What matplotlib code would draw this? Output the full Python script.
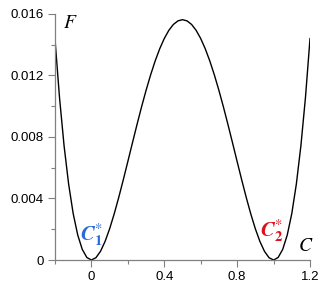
#!/usr/bin/env python3

import matplotlib
matplotlib.use("Agg")
import matplotlib.pyplot as plt
from matplotlib.ticker import MultipleLocator, FuncFormatter

# free energy F(C)
conc = [-0.200, -0.175, -0.150, -0.125, -0.100, -0.075, -0.050, -0.025,
        0.000, 0.025, 0.050, 0.075, 0.100, 0.125, 0.150, 0.175,
        0.200, 0.225, 0.250, 0.275, 0.300, 0.325, 0.350, 0.375,
        0.400, 0.425, 0.450, 0.475, 0.500, 0.525, 0.550, 0.575,
        0.600, 0.625, 0.650, 0.675, 0.700, 0.725, 0.750, 0.775,
        0.800, 0.825, 0.850, 0.875, 0.900, 0.925, 0.950, 0.975,
        1.000, 1.025, 1.050, 1.075, 1.100, 1.125, 1.150, 1.175, 1.200]
energy = [0.014400, 0.010570, 0.007439, 0.004944, 0.003025, 0.001625,
          0.000689, 0.000164, 0.000000, 0.000149, 0.000564, 0.001203,
          0.002025, 0.002991, 0.004064, 0.005211, 0.006400, 0.007602,
          0.008789, 0.009938, 0.011025, 0.012031, 0.012939, 0.013733,
          0.014400, 0.014930, 0.015314, 0.015547, 0.015625, 0.015547,
          0.015314, 0.014930, 0.014400, 0.013733, 0.012939, 0.012031,
          0.011025, 0.009938, 0.008789, 0.007602, 0.006400, 0.005211,
          0.004064, 0.002991, 0.002025, 0.001203, 0.000564, 0.000149,
          0.000000, 0.000164, 0.000689, 0.001625, 0.003025, 0.004944,
          0.007439, 0.010570, 0.014400]

x_ticks = [0, 0.4, 0.8, 1.2]
y_ticks = [0, 0.004, 0.008, 0.012, 0.016]

plt.rcParams['font.family'] = ['Liberation Sans', 'DejaVu Sans']
plt.rcParams['mathtext.fontset'] = 'stix'

fig = plt.figure(figsize=(3.33, 2.96), dpi=100)
ax = fig.add_axes([0.165, 0.1216, 0.766, 0.8314])

ax.plot(conc, energy, color='black', lw=1.0)

ax.set_xlim(-0.2, 1.2)
ax.set_ylim(0, 0.016)
ax.set_xticks(x_ticks)
ax.set_yticks(y_ticks)
ax.xaxis.set_minor_locator(MultipleLocator(0.2))
ax.yaxis.set_minor_locator(MultipleLocator(0.002))
ax.xaxis.set_major_formatter(FuncFormatter(lambda v, p: '%g' % round(v, 3)))
ax.yaxis.set_major_formatter(FuncFormatter(lambda v, p: '%g' % round(v, 4)))

for s in ['top', 'right']:
    ax.spines[s].set_visible(False)
for s in ['left', 'bottom']:
    ax.spines[s].set_color('#808080')
    ax.spines[s].set_linewidth(0.9)
ax.tick_params(which='major', length=5, width=0.8, color='#808080',
               labelsize=9.5, direction='out', pad=3)
ax.tick_params(which='minor', length=3, width=0.8, color='#808080',
               direction='out')

# labels
ax.text(-0.115, 0.01535, r'$F$', fontsize=14, ha='center', va='center')
ax.text(1.178, 0.00085, r'$C$', fontsize=14, ha='center', va='center')
ax.text(0.0, 0.00165, r'$\boldsymbol{C}_{\mathbf{1}}^{*}$', fontsize=15,
        color='#2a6ad8', ha='center', va='center')
ax.text(0.99, 0.0019, r'$\boldsymbol{C}_{\mathbf{2}}^{*}$', fontsize=15,
        color='#e0101a', ha='center', va='center')

fig.savefig('out.png', dpi=100)
